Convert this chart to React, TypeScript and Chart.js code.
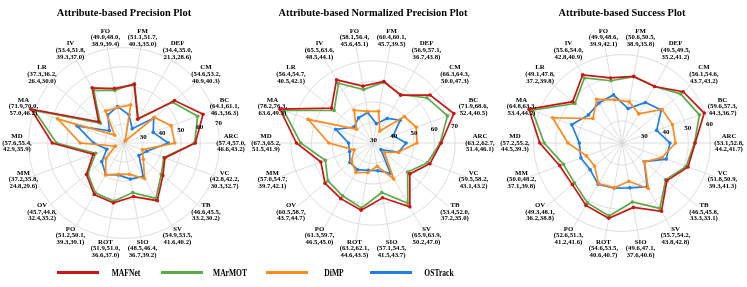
import React, { useEffect, useRef } from 'react';
import { Chart, registerables } from 'chart.js';

Chart.register(...registerables);

const FAMILY = "'Liberation Serif', 'Times New Roman', serif";

const attributes = ['FM', 'DEF', 'CM', 'BC', 'ARC', 'VC', 'TB', 'SV', 'SIO', 'ROT', 'PO', 'OV', 'MM', 'MD', 'MA', 'LR', 'IV', 'FO'];
const trackers = ['MAFNet', 'MArMOT', 'DiMP', 'OSTrack'];
const trackerColors = ['#cc1414', '#5aab48', '#ff8a1c', '#1e7fe6'];

// Attribute-based Precision
const precisionMAFNet = [51.1, 34.4, 54.6, 64.1, 57.4, 42.8, 46.6, 54.9, 48.5, 51.9, 51.2, 45.7, 37.2, 57.6, 71.9, 37.3, 53.4, 49.0];
const precisionMArMOT = [51.7, 35.0, 53.2, 61.1, 57.0, 42.2, 45.5, 53.5, 46.4, 51.0, 50.1, 44.8, 35.8, 55.4, 70.0, 36.2, 51.8, 48.0];
const precisionDiMP = [40.3, 21.3, 40.9, 46.3, 46.6, 30.3, 33.2, 41.6, 36.7, 36.6, 39.3, 32.4, 24.8, 42.9, 57.0, 26.4, 39.3, 38.9];
const precisionOSTrack = [35.0, 28.6, 40.3, 36.3, 43.2, 32.7, 30.2, 40.2, 39.2, 37.0, 39.1, 35.2, 29.6, 35.9, 46.2, 30.0, 37.0, 39.4];

// Attribute-based Normalized Precision
const normMAFNet = [60.4, 56.9, 66.3, 71.9, 63.2, 59.5, 53.4, 65.9, 57.1, 63.2, 61.3, 60.5, 57.0, 67.3, 78.2, 56.4, 65.5, 58.1];
const normMArMOT = [60.1, 57.1, 64.3, 68.6, 62.7, 58.2, 52.0, 63.9, 54.5, 62.1, 59.7, 58.7, 54.7, 65.2, 76.3, 54.7, 63.6, 56.4];
const normDiMP = [45.7, 36.7, 50.0, 52.4, 51.4, 43.1, 37.2, 50.2, 41.5, 44.6, 46.5, 43.7, 39.7, 51.5, 63.6, 40.5, 48.5, 45.6];
const normOSTrack = [39.5, 43.8, 47.3, 40.5, 46.1, 43.2, 35.0, 47.0, 43.7, 43.5, 45.0, 44.7, 42.1, 41.9, 49.3, 42.1, 44.1, 45.1];

// Attribute-based Success
const successMAFNet = [50.6, 49.5, 56.1, 59.6, 53.1, 51.8, 46.5, 55.7, 49.6, 54.6, 52.6, 49.3, 50.0, 57.2, 64.8, 49.1, 55.6, 49.9];
const successMArMOT = [50.5, 49.5, 54.6, 57.3, 52.8, 50.9, 45.8, 54.2, 47.1, 53.5, 51.3, 48.1, 48.2, 55.2, 63.3, 47.8, 54.0, 48.6];
const successDiMP = [38.9, 35.2, 43.7, 44.3, 44.2, 39.3, 33.3, 43.8, 37.6, 40.6, 41.2, 36.2, 37.1, 44.5, 53.4, 37.2, 42.8, 39.9];
const successOSTrack = [35.8, 41.2, 43.2, 36.7, 41.7, 41.3, 33.1, 42.8, 40.6, 40.7, 41.6, 38.8, 39.8, 39.3, 44.2, 39.8, 40.9, 42.1];

const precisionTicks = [30, 40, 50, 60, 70];
const normTicks = [30, 40, 50, 60, 70];
const successTicks = [30, 40, 50, 60];

const plots = [
  { title: 'Attribute-based Precision Plot', series: [precisionMAFNet, precisionMArMOT, precisionDiMP, precisionOSTrack], ticks: precisionTicks, min: 20 },
  { title: 'Attribute-based Normalized Precision Plot', series: [normMAFNet, normMArMOT, normDiMP, normOSTrack], ticks: normTicks, min: 30 },
  { title: 'Attribute-based Success Plot', series: [successMAFNet, successMArMOT, successDiMP, successOSTrack], ticks: successTicks, min: 20 },
];

const LABEL_FONT = 6.8;
const LABEL_LINE = 6.6;
const TICK_ANGLE = (80 * Math.PI) / 180;

function fmt(v: number) {
  return v.toFixed(1);
}

function makeLabelPlugin(labels: string[][], tickValues: number[]) {
  return {
    id: 'customLabels',
    afterDatasetsDraw(chart: any) {
      const scale = chart.scales.r;
      const ctx = chart.ctx;
      ctx.save();
      ctx.fillStyle = '#000';
      ctx.textAlign = 'center';
      ctx.textBaseline = 'middle';
      ctx.font = `bold ${LABEL_FONT}px ${FAMILY}`;
      const labelR = scale.drawingArea + 8;
      labels.forEach((lines, i) => {
        const p = scale.getPointPosition(i, labelR);
        const n = lines.length;
        lines.forEach((t, j) => {
          ctx.fillText(t, p.x, p.y + (j - (n - 1) / 2) * LABEL_LINE);
        });
      });
      ctx.font = `bold 7px ${FAMILY}`;
      tickValues.forEach((v) => {
        const d = scale.getDistanceFromCenterForValue(v);
        const x = scale.xCenter + d * Math.sin(TICK_ANGLE) + 0.5;
        const y = scale.yCenter - d * Math.cos(TICK_ANGLE) - 3;
        ctx.fillText(String(v), x, y);
      });
      ctx.restore();
    },
  };
}

function RadarPlot({ plot, left }: { plot: any; left: number }) {
  const ref = useRef<HTMLCanvasElement | null>(null);
  useEffect(() => {
    if (!ref.current) return;
    const series: number[][] = plot.series;
    const min: number = plot.min;
    const max = Math.max(...series.flat());
    const gridValues: number[] = plot.ticks.filter((v: number) => v > min);
    const labels = attributes.map((a, i) => [
      a,
      `(${fmt(series[0][i])},${fmt(series[1][i])},`,
      `${fmt(series[2][i])},${fmt(series[3][i])})`,
    ]);
    const chart = new Chart(ref.current, {
      type: 'radar',
      data: {
        labels: attributes,
        datasets: trackers.map((name, k) => ({
          label: name,
          data: series[k],
          borderColor: trackerColors[k],
          backgroundColor: trackerColors[k],
          pointBackgroundColor: trackerColors[k],
          pointBorderColor: trackerColors[k],
          pointBorderWidth: 0,
          pointRadius: 1.8,
          borderWidth: 1.7,
          fill: false,
        })),
      },
      options: {
        animation: false,
        responsive: false,
        maintainAspectRatio: false,
        layout: { padding: { left: 25, right: 26, top: 0, bottom: 45 } },
        plugins: {
          legend: { display: false },
          tooltip: { enabled: false },
          title: {
            display: true,
            text: plot.title,
            color: '#000',
            font: { family: FAMILY, size: 10.4, weight: 'bold', lineHeight: 1.2 },
            padding: { top: 7, bottom: 24.52 },
          },
        },
        scales: {
          r: {
            min,
            max,
            startAngle: 10,
            ticks: { display: false, stepSize: 10 },
            afterBuildTicks: (s: any) => {
              s.ticks = [min, ...gridValues].map((v) => ({ value: v }));
            },
            grid: { color: '#d6d6d6', lineWidth: 0.8, circular: true },
            angleLines: { color: '#d6d6d6', lineWidth: 0.8 },
            pointLabels: { display: false },
          },
        },
      } as any,
      plugins: [makeLabelPlugin(labels, plot.ticks)],
    });
    return () => chart.destroy();
  }, [plot]);
  return (
    <canvas
      ref={ref}
      width={249}
      height={287}
      style={{ position: 'absolute', left, top: 0, width: 249, height: 287 }}
    />
  );
}

export default function App() {
  return (
    <div style={{ position: 'absolute', left: 0, top: 0, width: 747, height: 287, background: '#fff', overflow: 'hidden' }}>
      {plots.map((p, i) => (
        <RadarPlot key={i} plot={p} left={i * 249} />
      ))}
      {trackers.map((name, i) => (
        <React.Fragment key={name}>
          <div
            style={{
              position: 'absolute',
              left: 57 + i * 104.3,
              top: 270.5,
              width: 42,
              height: 3,
              background: trackerColors[i],
            }}
          />
          <span
            style={{
              position: 'absolute',
              left: 125.5 + i * 104.4,
              top: 272.5,
              display: 'inline-block',
              whiteSpace: 'nowrap',
              fontFamily: FAMILY,
              fontWeight: 'bold',
              fontSize: 10.5,
              lineHeight: 1,
              color: '#000',
              transform: 'translate(-50%, -50%) scaleX(0.72)',
            }}
          >
            {name}
          </span>
        </React.Fragment>
      ))}
    </div>
  );
}
